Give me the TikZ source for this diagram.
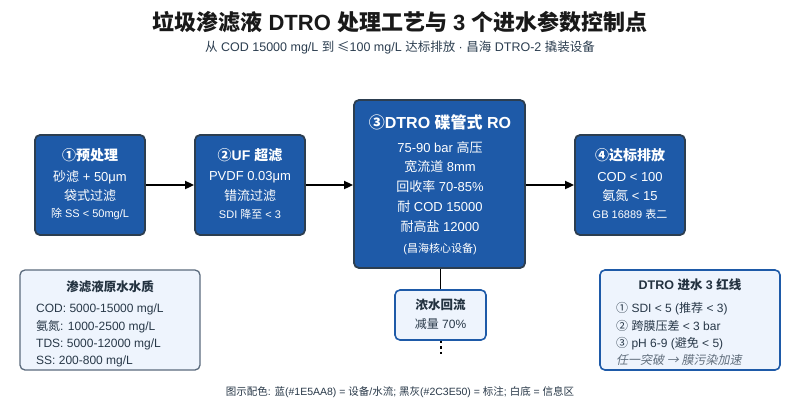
\documentclass[tikz,border=0pt]{standalone}
\usepackage{fontspec}
\setmainfont{Liberation Sans}
\newfontfamily\zh{Noto Sans CJK SC}[ItalicFont={Noto Sans CJK SC}, ItalicFeatures={FakeSlant=0.2}]
\usetikzlibrary{arrows.meta}
\definecolor{eqblue}{HTML}{1E5AA8}
\definecolor{darkgray}{HTML}{2C3E50}
\definecolor{lightfill}{HTML}{EEF4FD}
\definecolor{infoborder}{HTML}{5B6B7D}
\tikzset{
  stepbox/.style={draw=darkgray, line width=1.8pt, fill=eqblue, rounded corners=5pt, inner sep=0pt},
  infobox/.style={draw=infoborder, line width=1.3pt, fill=lightfill, rounded corners=5pt, inner sep=0pt},
  bluebox/.style={draw=eqblue, line width=1.6pt, fill=lightfill, rounded corners=5pt, inner sep=0pt},
  ttl/.style={text=white, font=\fontsize{14}{16}\selectfont\bfseries, inner sep=0pt},
  ln/.style={text=white, font=\fontsize{13}{15}\selectfont, inner sep=0pt},
  sm/.style={text=white, font=\fontsize{11}{13}\selectfont, inner sep=0pt},
  ititle/.style={text=darkgray!80!black, font=\fontsize{12.5}{14}\selectfont\bfseries, inner sep=0pt},
  iln/.style={text=darkgray!90!black, font=\fontsize{12}{14}\selectfont, inner sep=0pt, anchor=base west},
  flow/.style={line width=1.8pt, -{Triangle[length=9pt,width=8pt]}}
}
\begin{document}
\begin{tikzpicture}[x=1pt,y=-1pt]
\useasboundingbox[fill=white] (0,0) rectangle (800,400);

% title
\node[font=\fontsize{22}{24}\selectfont\bfseries, text=black!90, inner sep=0pt] (title) at (400,22) {{\zh 垃圾渗滤液} DTRO {\zh 处理工艺与} 3 {\zh 个进水参数控制点}};
\node[font=\fontsize{12.5}{14}\selectfont, text=darkgray, inner sep=0pt] (subtitle) at (400,48) {{\zh 从} COD 15000 mg/L {\zh 到 ≤}100 mg/L {\zh 达标排放} · {\zh 昌海} DTRO-2 {\zh 撬装设备}};

% step boxes
\node[stepbox, minimum width=110pt, minimum height=100pt] (b1) at (90,185) {};
\node[stepbox, minimum width=110pt, minimum height=100pt] (b2) at (250,185) {};
\node[stepbox, minimum width=171pt, minimum height=168pt] (b3) at (439.5,184) {};
\node[stepbox, minimum width=110pt, minimum height=100pt] (b4) at (630,185) {};

% box 1 text
\node[ttl] (b1t) at (90,155) {{\zh ①预处理}};
\node[ln] (b1a) at (90,177) {{\zh 砂滤} + 50μm};
\node[ln] (b1b) at (90,196) {{\zh 袋式过滤}};
\node[sm] (b1c) at (90,214) {{\zh 除} SS < 50mg/L};

% box 2 text
\node[ttl] (b2t) at (250,155) {{\zh ②}UF {\zh 超滤}};
\node[ln] (b2a) at (250,177) {PVDF 0.03μm};
\node[ln] (b2b) at (250,196) {{\zh 错流过滤}};
\node[sm] (b2c) at (250,214) {SDI {\zh 降至} < 3};

% box 3 text
\node[ttl, font=\fontsize{16}{18}\selectfont\bfseries] (b3t) at (440,122) {{\zh ③}DTRO {\zh 碟管式} RO};
\node[ln] (b3a) at (440,148) {75-90 bar {\zh 高压}};
\node[ln] (b3b) at (440,167) {{\zh 宽流道} 8mm};
\node[ln] (b3c) at (440,187) {{\zh 回收率} 70-85\%};
\node[ln] (b3d) at (440,207) {{\zh 耐} COD 15000};
\node[ln] (b3e) at (440,227) {{\zh 耐高盐} 12000};
\node[sm] (b3f) at (440,249) {({\zh 昌海核心设备})};

% box 4 text
\node[ttl] (b4t) at (630,155) {{\zh ④达标排放}};
\node[ln] (b4a) at (630,177) {COD < 100};
\node[ln] (b4b) at (630,196) {{\zh 氨氮} < 15};
\node[sm] (b4c) at (630,214) {GB 16889 {\zh 表二}};

% flow arrows
\draw[flow] (b1.east) -- (b2.west);
\draw[flow] (b2.east) -- (b2.east -| b3.west);
\draw[flow] (b3.east |- b4.west) -- (b4.west);

% concentrate
\node[bluebox, minimum width=91pt, minimum height=50pt] (conc) at (440.5,315) {};
\node[ititle] (conct) at (440.5,305) {{\zh 浓水回流}};
\node[font=\fontsize{12}{14}\selectfont, text=darkgray!90!black, inner sep=0pt] (conca) at (440.5,324) {{\zh 减量} 70\%};
\draw[line width=1.8pt] (b3.south -| conc.north) -- (conc.north);
\coordinate (concend) at (440.5,357);
\draw[line width=2pt, dash pattern=on 2.5pt off 3pt] (conc.south) -- (concend);

% left info
\node[infobox, minimum width=180pt, minimum height=100pt] (raw) at (110,320) {};
\node[ititle] (rawt) at (110,287) {{\zh 渗滤液原水水质}};
\node[iln] (raw1) at (36,312.5) {COD: 5000-15000 mg/L};
\node[iln] (raw2) at (36,330.5) {{\zh 氨氮}: 1000-2500 mg/L};
\node[iln] (raw3) at (36,347.5) {TDS: 5000-12000 mg/L};
\node[iln] (raw4) at (36,364.5) {SS: 200-800 mg/L};

% right info
\node[bluebox, minimum width=180pt, minimum height=100pt] (red) at (690,320) {};
\node[ititle] (redt) at (690,285) {DTRO {\zh 进水} 3 {\zh 红线}};
\node[iln] (red1) at (616,312.5) {{\zh ①} SDI < 5 ({\zh 推荐} < 3)};
\node[iln] (red2) at (616,330.5) {{\zh ②} {\zh 跨膜压差} < 3 bar};
\node[iln] (red3) at (616,347.5) {{\zh ③} pH 6-9 ({\zh 避免} < 5)};
\node[iln, text=darkgray!75, font=\fontsize{12}{14}\selectfont\itshape] (red4) at (616,364.5) {{\zh 任一突破 → 膜污染加速}};

% footer
\node[font=\fontsize{10.5}{12}\selectfont, text=darkgray!90!black, inner sep=0pt] (footer) at (400,392) {{\zh 图示配色}: {\zh 蓝}(\#1E5AA8) = {\zh 设备}/{\zh 水流}; {\zh 黑灰}(\#2C3E50) = {\zh 标注}; {\zh 白底} = {\zh 信息区}};
\end{tikzpicture}
\end{document}
